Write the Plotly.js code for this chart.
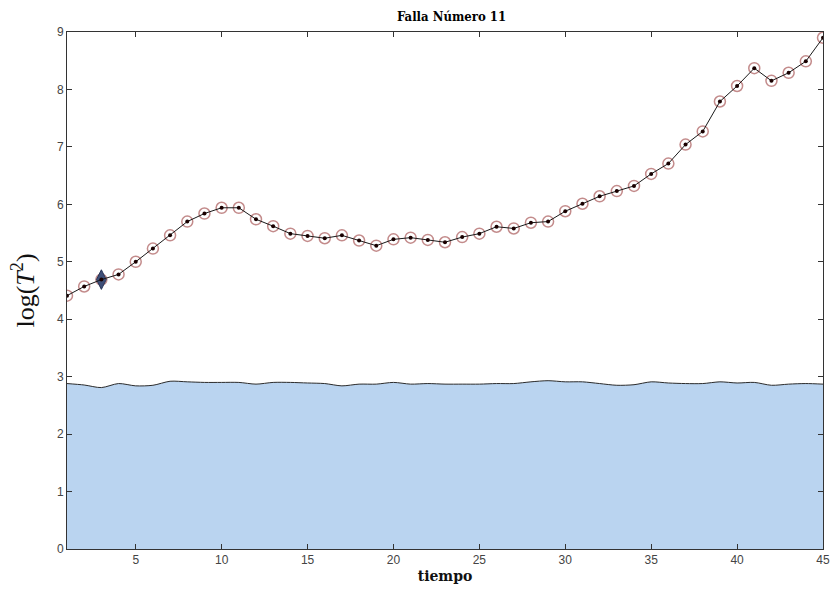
<!DOCTYPE html>
<html>
<head>
<meta charset="utf-8">
<script src="https://cdn.plot.ly/plotly-3.0.1.min.js"></script>
<style>html,body{margin:0;padding:0;background:#fff;}#chart{width:830px;height:594px;}</style>
</head>
<body>
<div id="chart"></div>
<script>
// time steps
const tiempo = [1,2,3,4,5,6,7,8,9,10,11,12,13,14,15,16,17,18,19,20,21,22,23,24,25,26,27,28,29,30,31,32,33,34,35,36,37,38,39,40,41,42,43,44,45];
// log(T^2) statistic
const logT2 = [4.41,4.57,4.69,4.78,5.00,5.23,5.46,5.70,5.84,5.94,5.94,5.74,5.62,5.49,5.45,5.41,5.46,5.37,5.28,5.39,5.42,5.38,5.34,5.43,5.49,5.61,5.58,5.68,5.70,5.88,6.01,6.14,6.23,6.32,6.53,6.71,7.04,7.27,7.79,8.06,8.37,8.15,8.29,8.49,8.90];
// control limit
const limite = [2.88,2.855,2.81,2.88,2.84,2.85,2.92,2.91,2.90,2.90,2.90,2.87,2.90,2.90,2.89,2.88,2.84,2.87,2.87,2.90,2.87,2.88,2.87,2.87,2.87,2.88,2.88,2.91,2.93,2.91,2.91,2.88,2.85,2.86,2.91,2.89,2.88,2.88,2.91,2.89,2.90,2.85,2.87,2.88,2.87];
// highlighted point
const destX = [3];
const destY = [4.69];
const xTicks = [5,10,15,20,25,30,35,40,45];
const yTicks = [0,1,2,3,4,5,6,7,8,9];

const traces = [
  {x: tiempo, y: limite, type: 'scatter', mode: 'lines', fill: 'tozeroy',
   fillcolor: 'rgb(186,212,240)', line: {color: '#2b2b2b', width: 1, shape: 'spline', smoothing: 0.8},
   hoverinfo: 'skip'},
  {x: tiempo, y: logT2, type: 'scatter', mode: 'markers',
   marker: {symbol: 'circle-open', size: 11, color: 'rgba(170,90,90,0.7)', line: {width: 1.5}}},
  {x: destX, y: destY, type: 'scatter', mode: 'markers',
   marker: {symbol: 'diamond-tall', size: 14, color: '#3e4f78', line: {color: '#2a3658', width: 1}}},
  {x: tiempo, y: logT2, type: 'scatter', mode: 'lines+markers',
   line: {color: '#1a1a1a', width: 1},
   marker: {symbol: 'circle', size: 4, color: '#1a0000'}}
];

const layout = {
  width: 830, height: 594,
  margin: {l: 67, r: 7, t: 32, b: 45},
  paper_bgcolor: '#fff', plot_bgcolor: '#fff',
  showlegend: false,
  title: {text: 'Falla Número 11', x: 0.544, xanchor: 'center', y: 0.972, yanchor: 'middle',
          font: {family: 'DejaVu Serif Condensed, DejaVu Serif', size: 13, color: '#000', weight: 'bold'}},
  xaxis: {range: [1, 45], tickvals: xTicks, ticktext: xTicks.map(String),
          ticks: 'inside', ticklen: 5, tickcolor: '#333', showgrid: false, zeroline: false,
          showline: true, linecolor: '#333', linewidth: 1, mirror: 'ticks',
          ticklabeloverflow: 'allow',
          tickfont: {family: 'Liberation Sans, Arial', size: 12, color: '#444'},
          title: {text: '<b>tiempo</b>', standoff: 4,
                  font: {family: 'DejaVu Serif, Liberation Serif', size: 14, color: '#111'}}},
  yaxis: {range: [0, 9], tickvals: yTicks, ticktext: yTicks.map(String),
          ticks: 'inside', ticklen: 5, tickcolor: '#333', showgrid: false, zeroline: false,
          showline: true, linecolor: '#333', linewidth: 1, mirror: 'ticks',
          tickfont: {family: 'Liberation Sans, Arial', size: 12, color: '#444'},
          title: {text: 'log(<i>T</i><sup>2</sup>)', standoff: 14,
                  font: {family: 'Liberation Serif, Times New Roman', size: 26, color: '#111'}}}
};

Plotly.newPlot('chart', traces, layout, {displayModeBar: false, staticPlot: true});
</script>
</body>
</html>
